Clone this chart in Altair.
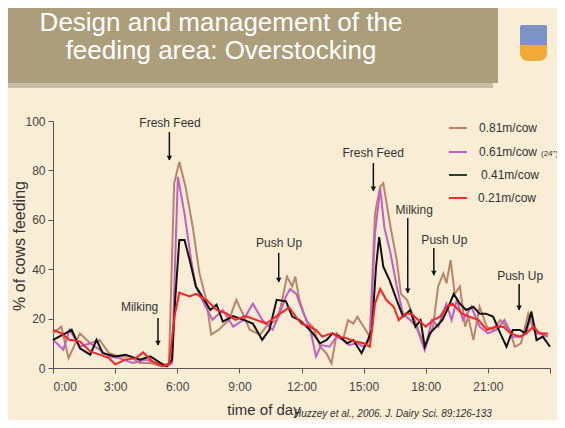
import altair as alt
import pandas as pd

# ---------------- data ----------------
red_hour = [0.0, 0.4, 0.8, 1.3, 1.8, 2.25, 2.7, 3.0, 3.5, 4.0, 4.35, 4.8, 5.3, 5.6, 5.87, 6.1, 6.6, 6.9,
            7.4, 7.9, 8.4, 8.8, 9.3, 9.8, 10.3, 10.8, 11.4, 11.7, 12.0, 12.4, 12.7, 13.0, 13.45, 13.8,
            14.2, 14.6, 15.0, 15.3, 15.55, 15.8, 16.1, 16.45, 16.7, 17.0, 17.3, 17.65, 18.0, 18.35,
            18.7, 19.0, 19.3, 19.75, 20.1, 20.55, 20.95, 21.35, 21.75, 22.1, 22.55, 22.85, 23.2, 23.5, 23.9]
red_val = [15.5, 14, 11.4, 10.8, 6.7, 5.4, 4, 1.5, 3.4, 4, 6.3, 2.7, 0.7, 1.3, 21, 30.5, 29, 30,
           27.6, 23.5, 22, 19.5, 21, 19.5, 18, 21, 24.5, 21, 18, 16.7, 15.4, 12.7, 14, 12.7,
           12, 10.7, 10, 8.6, 26, 32, 27.5, 24.8, 19.4, 22, 22, 19.4, 16.7, 19.4,
           20.8, 24.8, 26, 22, 20.8, 19.4, 15.4, 16.7, 16.7, 14, 12.7, 14, 16.7, 14, 14]

black_hour = [0.0, 0.6, 0.9, 1.3, 1.8, 2.1, 2.4, 3.0, 3.5, 4.2, 4.7, 5.2, 5.5, 5.75, 5.9, 6.1, 6.35,
              6.6, 6.9, 7.2, 7.6, 7.9, 8.2, 8.7, 9.2, 9.65, 10.1, 10.45, 10.8, 11.25, 11.55, 11.9,
              12.25, 12.55, 12.9, 13.2, 13.5, 13.85, 14.2, 14.5, 14.9, 15.2, 15.4, 15.6, 15.75, 15.95,
              16.25, 16.6, 16.9, 17.25, 17.5, 17.75, 17.95, 18.2, 18.5, 18.8, 19.1, 19.35, 19.65,
              19.95, 20.3, 20.6, 20.9, 21.25, 21.6, 21.9, 22.2, 22.55, 22.8, 23.1, 23.35, 23.65, 24.0]
black_val = [11.4, 14, 15.5, 8, 5.4, 11.4, 6, 4.7, 5.4, 3.4, 4.7, 2, 0.7, 3.4, 27.6, 51.8, 51.8,
             43.7, 33, 29, 23.5, 25.6, 18.8, 21, 19.5, 18, 11.4, 15.5, 27.6, 27, 20.8, 19.4,
             16.7, 14, 10, 11.3, 14, 12.7, 10, 11.3, 6, 11.3, 15.4, 41, 53, 41,
             35.6, 27.5, 20.8, 23.5, 16.7, 19.4, 8.6, 14, 16.7, 19.4, 24.8, 30, 26,
             23.5, 24.8, 22, 22, 20.8, 14, 8.6, 15.4, 15.4, 14, 22.8, 11.3, 12.7, 8.6]

purple_hour = [0.0, 0.5, 0.8, 1.3, 1.8, 2.25, 2.7, 3.2, 3.85, 4.5, 5.0, 5.5, 5.75, 5.9, 6.03, 6.35,
               6.67, 6.9, 7.2, 7.7, 8.2, 8.7, 9.2, 9.65, 10.1, 10.6, 10.9, 11.25, 11.45, 11.75, 12.1,
               12.4, 12.7, 12.95, 13.35, 13.7, 14.0, 14.3, 14.7, 15.0, 15.3, 15.55, 15.8, 16.0, 16.3,
               16.6, 16.9, 17.25, 17.55, 17.95, 18.3, 18.6, 19.0, 19.25, 19.5, 19.8, 20.2, 20.6,
               21.0, 21.4, 21.8, 22.2, 22.6, 22.85, 23.1, 23.35, 23.65, 23.9]
purple_val = [11.4, 7.4, 15.5, 8.7, 10, 7.4, 4.7, 4, 2, 3.4, 2, 0.7, 2, 43.7, 77.4, 62.6,
              43.7, 33, 27.6, 19.5, 23.5, 16.8, 19.5, 26, 19.5, 15.5, 21, 29, 32, 30, 22,
              16.7, 4.6, 9.3, 8.6, 12.7, 11.3, 9.3, 10, 8.6, 11.3, 54.5, 72.7, 57, 46.4,
              33, 22, 19.4, 16.7, 7.3, 19.4, 16.7, 26, 19.4, 27.5, 19.4, 24.8, 16.7,
              14, 15.4, 19.4, 12.7, 12.7, 14, 22, 14, 14, 12.7]

brown_hour = [0.0, 0.4, 0.75, 1.3, 1.8, 2.25, 2.7, 3.2, 3.7, 4.2, 4.7, 5.2, 5.6, 5.85, 6.1, 6.4,
              6.75, 7.07, 7.4, 7.64, 8.0, 8.5, 8.85, 9.16, 9.5, 10.0, 10.3, 10.8, 11.0, 11.3, 11.55,
              11.7, 11.9, 12.25, 12.55, 12.9, 13.2, 13.45, 13.7, 14.0, 14.25, 14.5, 14.7, 15.0, 15.3,
              15.55, 15.8, 15.95, 16.3, 16.6, 16.8, 17.1, 17.4, 17.7, 18.0, 18.35, 18.6, 18.85, 19.0,
              19.2, 19.4, 19.65, 19.9, 20.05, 20.3, 20.6, 20.95, 21.25, 21.6, 22.05, 22.3, 22.6,
              22.95, 23.2, 23.5, 23.85]
brown_val = [14, 16.8, 4, 14, 10, 11.4, 6, 4.7, 4.7, 2, 2, 0.7, 2, 74.7, 83.4, 73.4,
             57, 38.4, 27.6, 13.5, 15.5, 19.5, 27.6, 22, 15.5, 13.5, 16.8, 19.5, 25, 37, 33,
             37, 27.5, 18.8, 16.7, 8.6, 6, 1.9, 14, 11.3, 19.4, 18, 20.8, 16.7, 12.7,
             62.6, 73.4, 74.8, 57, 43.7, 30, 27.5, 20.8, 14, 8.6, 16.7, 33, 38.3, 34.3,
             43.7, 30, 33, 16.7, 20.8, 11.3, 24.8, 16.7, 15.4, 19.4, 15.4, 8.6, 10,
             22, 15.4, 14, 12.7]

series_names = ["0.81m/cow", "0.61m/cow", "0.41m/cow", "0.21m/cow"]
line_colors = ["#B9846A", "#C45DC4", "#111111", "#FF2222"]
legend_colors = ["#C0806A", "#C45DC4", "#1D4A2A", "#FF2A2A"]

title_lines = ["Design and management of the", "feeding area: Overstocking"]

ann_labels = ["Fresh Feed", "Milking", "Push Up", "Fresh Feed", "Milking", "Push Up", "Push Up"]
ann_text_hour = [5.65, 4.18, 10.92, 15.46, 17.44, 18.9, 22.56]
ann_text_val = [99.0, 24.7, 50.6, 87.0, 64.0, 51.8, 37.2]
arrow_hour = [5.62, 5.07, 10.9, 15.47, 17.13, 18.39, 22.51]
arrow_top = [95.5, 20.2, 46.6, 83.0, 60.7, 48.6, 34.0]
arrow_bottom = [84.2, 9.3, 34.8, 71.7, 30.4, 37.6, 23.5]

x_ticks = [0, 3, 6, 9, 12, 15, 18, 21, 24]
y_ticks = [0, 20, 40, 60, 80, 100]

# ---------------- tables ----------------
frames = []
for name, hrs, vals in zip(series_names,
                           [brown_hour, purple_hour, black_hour, red_hour],
                           [brown_val, purple_val, black_val, red_val]):
    frames.append(pd.DataFrame({"hour": hrs, "pct": vals, "series": name}))
lines_df = pd.concat(frames, ignore_index=True)

ann_df = pd.DataFrame({"label": ann_labels, "th": ann_text_hour, "tv": ann_text_val,
                       "ah": arrow_hour, "at": arrow_top, "ab": arrow_bottom})

BG = "#F9EDD6"
FONT = "Liberation Sans"

xscale = alt.Scale(domain=[0, 24], nice=False, zero=False)
yscale = alt.Scale(domain=[0, 100], nice=False)

lines = alt.Chart(lines_df).mark_line(strokeWidth=2, interpolate="linear").encode(
    x=alt.X("hour:Q", scale=xscale,
            axis=alt.Axis(values=x_ticks, title=None, grid=False, tickSize=5, labelPadding=8,
                          labelFontSize=12, labelColor="#444", labelFont=FONT,
                          domainColor="#555", tickColor="#555",
                          labelExpr="datum.value < 24 ? datum.value + ':00' : ''")),
    y=alt.Y("pct:Q", scale=yscale,
            axis=alt.Axis(values=y_ticks, title=None, grid=False, tickSize=5, labelPadding=3,
                          labelFontSize=12, labelColor="#444", labelFont=FONT,
                          domainColor="#555", tickColor="#555")),
    color=alt.Color("series:N", scale=alt.Scale(domain=series_names, range=line_colors), legend=None),
    order=alt.Order("hour:Q"),
    detail="series:N",
)

ann_text = alt.Chart(ann_df).mark_text(fontSize=12, font=FONT, color="#333", baseline="middle").encode(
    x=alt.X("th:Q", scale=xscale), y=alt.Y("tv:Q", scale=yscale), text="label:N")
ann_shaft = alt.Chart(ann_df).mark_rule(color="#111", strokeWidth=1.5).encode(
    x=alt.X("ah:Q", scale=xscale), y=alt.Y("at:Q", scale=yscale), y2="ab:Q")
ann_head = alt.Chart(ann_df).mark_point(shape="triangle-down", filled=True, color="#111",
                                        size=30, opacity=1, yOffset=-2).encode(
    x=alt.X("ah:Q", scale=xscale), y=alt.Y("ab:Q", scale=yscale))

one = pd.DataFrame({"k": [0]})

# decorative banner
banner = alt.Chart(one).mark_rect(color="#AC9E7A").encode(
    x=alt.value(-45), x2=alt.value(445), y=alt.value(-113), y2=alt.value(-38))
banner_shadow = alt.Chart(one).mark_rect(color="#8C826C", opacity=0.45).encode(
    x=alt.value(-45), x2=alt.value(440), y=alt.value(-38), y2=alt.value(-33))
title = alt.Chart(one).mark_text(text=title_lines, fontSize=26, lineHeight=28, font=FONT,
                                 color="white", align="center", baseline="alphabetic").encode(
    x=alt.value(168), y=alt.value(-90))
logo_top = alt.Chart(one).mark_rect(color="#7D93C8", cornerRadiusTopLeft=2,
                                    cornerRadiusTopRight=2).encode(
    x=alt.value(467), x2=alt.value(494), y=alt.value(-96), y2=alt.value(-76))
logo_bot = alt.Chart(one).mark_rect(color="#F0AA35", cornerRadiusBottomLeft=12,
                                    cornerRadiusBottomRight=12).encode(
    x=alt.value(467), x2=alt.value(494), y=alt.value(-76), y2=alt.value(-60))

# axis titles and citation
ytitle = alt.Chart(one).mark_text(text="% of cows feeding", fontSize=16, font=FONT, color="#333",
                                  angle=270, align="center", baseline="middle").encode(
    x=alt.value(-33), y=alt.value(125))
xtitle = alt.Chart(one).mark_text(text="time of day", fontSize=15, font=FONT, color="#333",
                                  align="center", baseline="alphabetic").encode(
    x=alt.value(211), y=alt.value(294))
cite = alt.Chart(one).mark_text(text="Huzzey et al., 2006. J. Dairy Sci. 89:126-133", fontSize=10,
                                font=FONT, fontStyle="italic", color="#333", align="left",
                                baseline="alphabetic").encode(
    x=alt.value(241), y=alt.value(296))

# manual legend
leg_df = pd.DataFrame({"name": series_names, "col": legend_colors,
                       "ly": [7, 31, 54, 77], "tx": [426, 426, 428, 425]})
leg_lines = alt.Chart(leg_df).mark_rule(strokeWidth=2).encode(
    x=alt.value(396), x2=alt.value(414), y=alt.Y("ly:Q", scale=None),
    color=alt.Color("col:N", scale=None))
leg_text = alt.Chart(leg_df).mark_text(fontSize=12, font=FONT, color="#333", align="left",
                                       baseline="middle").encode(
    x=alt.X("tx:Q", scale=None), y=alt.Y("ly:Q", scale=None), text="name:N")
leg_small = alt.Chart(one).mark_text(text='(24")', fontSize=8, font=FONT, color="#333",
                                     align="left", baseline="middle").encode(
    x=alt.value(488), y=alt.value(33))

chart = alt.layer(
    banner_shadow, banner, title, logo_top, logo_bot,
    lines, ann_shaft, ann_head, ann_text,
    ytitle, xtitle, cite, leg_lines, leg_text, leg_small,
).properties(
    width=497, height=247,
    autosize=alt.AutoSizeParams(type="none"),
    padding={"left": 45, "top": 113, "right": 7, "bottom": 52},
    background=BG,
).configure_view(stroke=None)

chart.save("out.html", embed_options={"renderer": "svg", "actions": False})
